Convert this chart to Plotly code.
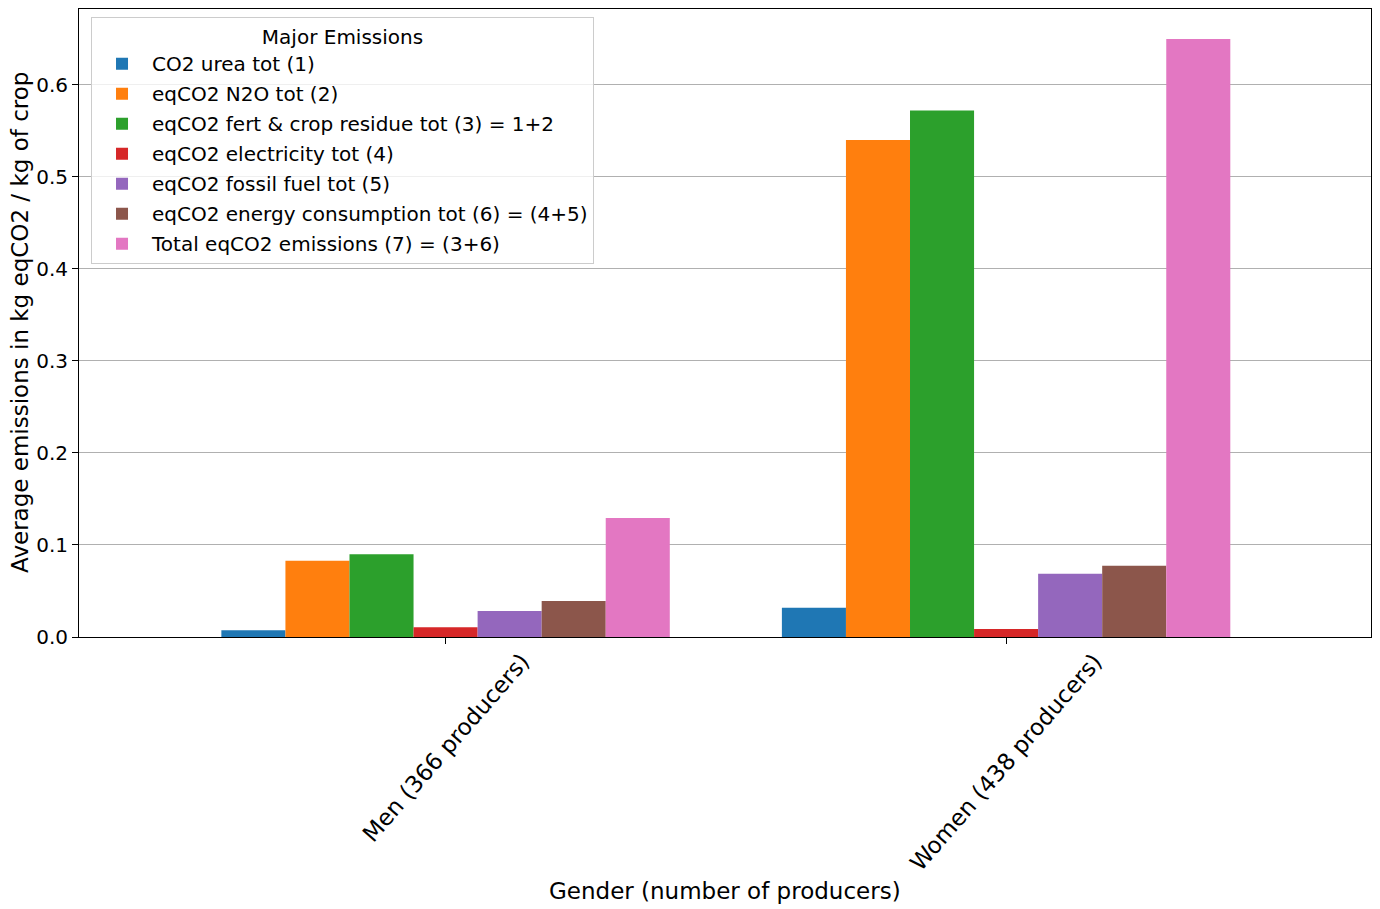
import plotly.graph_objects as go

categories = ["Men (366 producers)", "Women (438 producers)"]
series_names = [
    "CO2 urea tot (1)",
    "eqCO2 N2O tot (2)",
    "eqCO2 fert & crop residue tot (3) = 1+2",
    "eqCO2 electricity tot (4)",
    "eqCO2 fossil fuel tot (5)",
    "eqCO2 energy consumption tot (6) = (4+5)",
    "Total eqCO2 emissions (7) = (3+6)",
]
co2_urea = [0.0073, 0.0318]
n2o = [0.0828, 0.540]
fert_crop = [0.090, 0.5723]
electricity = [0.0105, 0.0087]
fossil_fuel = [0.0282, 0.0687]
energy = [0.039, 0.0774]
total = [0.1294, 0.650]
series_values = [co2_urea, n2o, fert_crop, electricity, fossil_fuel, energy, total]
colors = ["#1f77b4", "#ff7f0e", "#2ca02c", "#d62728", "#9467bd", "#8c564b", "#e377c2"]
x_title = "Gender (number of producers)"
y_title = "Average emissions in kg eqCO2 / kg of crop"

fig = go.Figure()
for name, vals, col in zip(series_names, series_values, colors):
    fig.add_trace(go.Bar(x=categories, y=vals, name=name, marker_color=col,
                         marker_line_width=0, legendgroup=name))

# rotated category labels, centred on the tick
for cat in categories:
    fig.add_annotation(x=cat, xref="x", y=0, yref="paper", text=cat,
                       textangle=-49, showarrow=False, xanchor="center",
                       yanchor="top", yshift=-9, font=dict(size=23))
fig.add_annotation(x=0.5, xref="paper", y=0, yref="paper", text=x_title,
                   showarrow=False, xanchor="center", yanchor="middle",
                   yshift=-254, font=dict(size=23))
fig.add_annotation(x=0, xref="paper", y=0.5, yref="paper", text=y_title,
                   textangle=-90, showarrow=False, xanchor="center",
                   yanchor="middle", xshift=-59, font=dict(size=23))

font = "DejaVu Sans, sans-serif"
fig.update_layout(
    width=1364, height=901,
    margin=dict(l=71, r=1, t=1, b=272),
    plot_bgcolor="white", paper_bgcolor="white",
    barmode="group", bargap=0.2, bargroupgap=0,
    font=dict(family=font, size=20, color="black"),
    legend=dict(
        title=dict(text="Major Emissions", side="top center", font=dict(size=20)),
        x=0.0093, y=0.987, xanchor="left", yanchor="top",
        bordercolor="#cccccc", borderwidth=1, bgcolor="rgba(255,255,255,0.8)",
        font=dict(size=20), tracegroupgap=1, itemwidth=50,
    ),
    xaxis=dict(
        range=[-0.654, 1.651], showline=True, linecolor="black",
        linewidth=1, mirror=True, ticks="outside", ticklen=6, tickcolor="black",
        showticklabels=False, automargin=False, showgrid=False,
    ),
    yaxis=dict(
        range=[0, 0.6825], dtick=0.1, tickformat=".1f", showline=True,
        linecolor="black", linewidth=1, mirror=True, ticks="outside", ticklen=6,
        tickcolor="black", showgrid=True, gridcolor="#b0b0b0", gridwidth=1,
        zeroline=False, tickfont=dict(size=20), automargin=False,
    ),
)
fig.write_html("out.html")
